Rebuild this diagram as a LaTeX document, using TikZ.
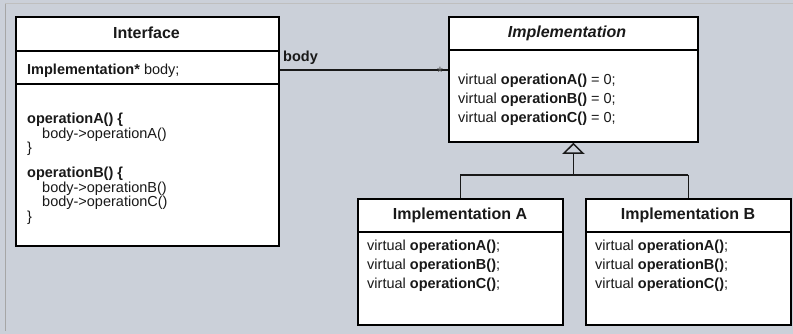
\documentclass[tikz,border=0pt]{standalone}
\usepackage{fontspec}
\setmainfont{Liberation Sans}
\usetikzlibrary{arrows.meta}
\definecolor{bg}{RGB}{203,208,217}
\definecolor{ink}{RGB}{25,25,25}
\begin{document}
\begin{tikzpicture}[x=1pt,y=-1pt,
  box/.style={draw=black, fill=white, line width=1.8pt, inner sep=0pt, anchor=north west},
  sep/.style={line width=1.6pt},
  txt/.style={inner sep=0pt, anchor=west, text=ink, font=\fontsize{14.5}{16}\selectfont},
  ttl/.style={inner sep=0pt, text=ink, font=\fontsize{16}{18}\selectfont\bfseries},
  conn/.style={line width=1.6pt, draw=ink}]
\fill[bg] (0,0) rectangle (793,334);
\useasboundingbox (0,0) rectangle (793,334);
\draw[gray!70, line width=1pt] (5,3) -- (5,331);
\draw[gray!50, line width=0.8pt] (5,3) -- (793,3);
% boxes
\node[box, minimum width=263pt, minimum height=229pt] (iface) at (15,16) {};
\node[box, minimum width=249pt, minimum height=125pt] (impl) at (448,16) {};
\node[box, minimum width=205pt, minimum height=126pt] (implA) at (357,198) {};
\node[box, minimum width=205pt, minimum height=126pt] (implB) at (585,198) {};
% compartments
\draw[sep] ([yshift=-35pt]iface.north west) -- ([yshift=-35pt]iface.north east);
\draw[sep] ([yshift=-68pt]iface.north west) -- ([yshift=-68pt]iface.north east);
\draw[sep] ([yshift=-34pt]impl.north west) -- ([yshift=-34pt]impl.north east);
\draw[sep] ([yshift=-34pt]implA.north west) -- ([yshift=-34pt]implA.north east);
\draw[sep] ([yshift=-34pt]implB.north west) -- ([yshift=-34pt]implB.north east);
% titles
\node[ttl] (t1) at (146.5,33) {Interface};
\node[ttl, font=\fontsize{16}{18}\selectfont\bfseries\itshape] (t2) at (567,33) {Implementation};
\node[ttl] (t3) at (460,215) {Implementation A};
\node[ttl] (t4) at (688,215) {Implementation B};
% interface contents
\node[txt] (a1) at (27,71) {\textbf{Implementation*} body;};
\node[txt] (m1) at (27,120) {\textbf{operationA() \{}};
\node[txt] (m2) at (42,134.5) {body->operationA()};
\node[txt] (m3) at (27,149) {\}};
\node[txt] (m4) at (27,174) {\textbf{operationB() \{}};
\node[txt] (m5) at (42,188.5) {body->operationB()};
\node[txt] (m6) at (42,203) {body->operationC()};
\node[txt] (m7) at (27,217.5) {\}};
% implementation contents
\node[txt] (i1) at (458,81) {virtual \textbf{operationA()} = 0;};
\node[txt] (i2) at (458,100) {virtual \textbf{operationB()} = 0;};
\node[txt] (i3) at (458,119) {virtual \textbf{operationC()} = 0;};
\node[txt] (ia1) at (367,247) {virtual \textbf{operationA()};};
\node[txt] (ia2) at (367,266) {virtual \textbf{operationB()};};
\node[txt] (ia3) at (367,285) {virtual \textbf{operationC()};};
\node[txt] (ib1) at (595,247) {virtual \textbf{operationA()};};
\node[txt] (ib2) at (595,266) {virtual \textbf{operationB()};};
\node[txt] (ib3) at (595,285) {virtual \textbf{operationC()};};
% association
\coordinate (assoc) at (0,70);
\draw[conn] (iface.east |- assoc) -- (impl.west |- assoc);
\node[txt, font=\fontsize{14.5}{16}\selectfont\bfseries] (body) at (283,58) {body};
\node[inner sep=0pt, text=ink!75, font=\fontsize{15}{15}\selectfont] (mult) at (440,72) {*};
% generalization
\coordinate (bus) at (0,175);
\draw[conn, -{Triangle[open, length=11pt, width=22pt, line width=1.5pt]}] (impl.south |- bus) -- (impl.south);
\draw[conn, line width=1.4pt] (implA.north |- bus) -- (implB.north |- bus);
\draw[conn, line width=1.4pt] (implA.north |- bus) -- (implA.north);
\draw[conn, line width=1.4pt] (implB.north |- bus) -- (implB.north);
\end{tikzpicture}
\end{document}
